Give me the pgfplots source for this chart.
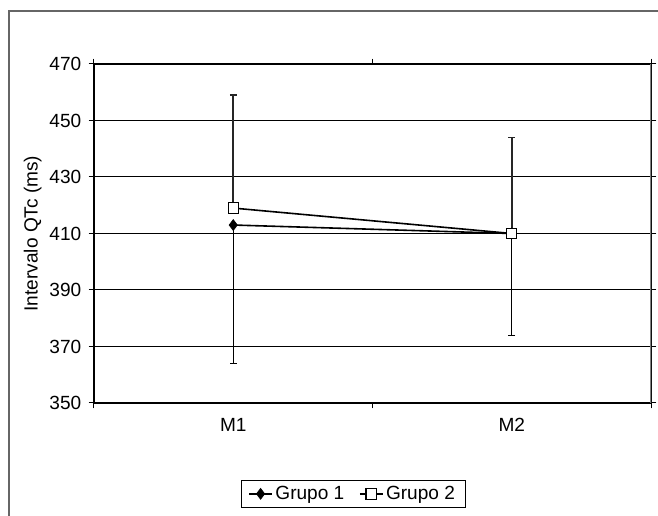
\documentclass[border=0pt]{standalone}
\usepackage{pgfplots}
\pgfplotsset{compat=1.18}
\usepackage{fontspec}
\setmainfont{Liberation Sans}
\newcommand{\ff}{\fontsize{14.3}{17}\selectfont}
\begin{document}
\begin{tikzpicture}[font=\ff]
\useasboundingbox (0,0) rectangle (493.5pt,386.25pt);
\draw[gray!80!black, line width=1.1pt] (6.75pt,-2pt) -- (6.75pt,378pt) -- (496pt,378pt);
\begin{axis}[
  at={(70.5pt,84pt)}, anchor=south west,
  scale only axis, width=417.75pt, height=254.25pt,
  xmin=0.5, xmax=2.5, ymin=350, ymax=470,
  /pgf/number format/assume math mode=true,
  tick label style={font=\ff}, label style={font=\ff},
  xtick={0.5,1.5,2.5}, xticklabels={},
  extra x ticks={1,2}, extra x tick labels={M1,M2},
  extra x tick style={major tick length=0pt, xticklabel style={yshift=-8pt}},
  ytick={350,370,...,470},
  tick align=outside, major tick length=4pt,
  tick style={black, line width=0.75pt},
  ymajorgrids, grid style={black, line width=0.75pt},
  axis line style={black, line width=0.9pt},
  ylabel={Intervalo QTc (ms)},
  ylabel style={yshift=-1pt},
  yticklabel style={xshift=-2pt},
  legend columns=2,
  legend style={at={(0.465,-0.268)}, anchor=center, draw=black, line width=0.6pt,
    font=\ff, inner xsep=5.5pt, inner ysep=2.5pt,
    /tikz/every even column/.append style={column sep=9pt}},
  legend cell align=left,
]
\addplot+[black, line width=1.2pt, mark=diamond*, mark size=4pt,
  mark options={fill=black, draw=black, line width=0.6pt},
  error bars/.cd, y dir=both, y explicit,
  error bar style={black, line width=0.6pt},
  error mark options={rotate=90, mark size=2.5pt, line width=0.9pt}]
  coordinates {(1,413) -= (0,49) (2,410) -= (0,36)};
\addlegendentry{Grupo 1}
\addplot+[black, line width=1.2pt, mark=square*, mark size=3.9pt,
  mark options={fill=white, draw=black, line width=0.8pt},
  error bars/.cd, y dir=both, y explicit,
  error bar style={black!85, line width=1.3pt},
  error mark options={rotate=90, mark size=2.5pt, line width=0.9pt}]
  coordinates {(1,419) += (0,40) (2,410) += (0,34)};
\addlegendentry{Grupo 2}
\draw[gray, line width=1.2pt] (rel axis cs:1,0) -- (rel axis cs:1,1);
\end{axis}
\end{tikzpicture}
\end{document}
